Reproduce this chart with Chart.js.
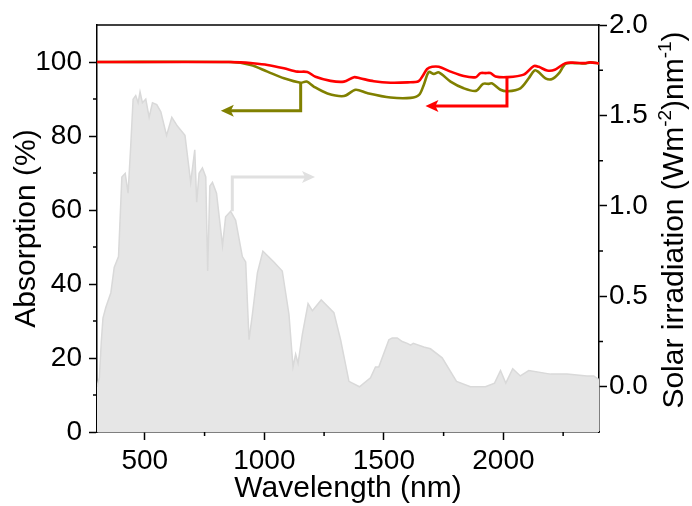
<!DOCTYPE html>
<html><head><meta charset="utf-8">
<script src="https://cdn.jsdelivr.net/npm/chart.js@4.4.1/dist/chart.umd.min.js"></script>
<style>html,body{margin:0;padding:0;background:#fff}#wrap{width:692px;height:506px}</style>
</head><body><div id="wrap"><canvas id="c" width="692" height="506"></canvas></div>
<script>
// ---- data ----
const solarWavelength = [300,310,318,325,337,358,372,390,404,418,430,441,451,462,472,480,490,504,518,532,550,567,591,613,637,668,692,709,717,727,741,755,763,772,783,800,825,838,859,880,908,922,936,950,971,994,1040,1075,1103,1120,1131,1141,1159,1183,1201,1238,1291,1319,1354,1398,1444,1465,1479,1521,1535,1556,1577,1598,1612,1623,1667,1695,1744,1804,1862,1925,1963,1988,2010,2039,2071,2106,2197,2266,2350,2378,2400];
const solarIrradiance = [0.0,0.05,0.25,0.38,0.44,0.52,0.66,0.72,1.16,1.18,1.07,1.33,1.59,1.61,1.57,1.63,1.57,1.59,1.49,1.57,1.56,1.52,1.39,1.49,1.44,1.39,1.13,1.31,1.02,1.18,1.21,1.16,0.64,1.11,1.13,1.07,0.78,0.94,0.97,0.92,0.72,0.69,0.26,0.40,0.63,0.75,0.69,0.64,0.40,0.11,0.18,0.13,0.29,0.46,0.42,0.48,0.41,0.26,0.03,0.00,0.05,0.11,0.11,0.26,0.27,0.27,0.25,0.24,0.23,0.24,0.22,0.21,0.16,0.03,0.00,0.00,0.02,0.09,0.02,0.10,0.06,0.09,0.07,0.07,0.06,0.06,0.04];

const redWavelength = [300,850,900,943,1013,1082,1138,1180,1214,1277,1333,1375,1400,1458,1528,1600,1645,1665,1681,1702,1730,1779,1834,1885,1904,1925,1946,1967,2015,2085,2127,2148,2183,2215,2260,2300,2340,2364,2400];
const redAbsorption = [100,100,99.9,99.7,99.2,98.3,97.4,97.3,96.0,94.9,94.7,95.9,95.6,94.8,94.4,94.5,94.8,96.5,98.1,98.7,98.7,97.4,96.2,95.9,97.0,97.0,97.0,96.1,95.9,96.6,98.9,98.7,97.7,97.9,99.7,99.8,99.7,99.9,99.6];

const oliveWavelength = [300,860,943,1013,1082,1152,1177,1208,1264,1333,1382,1430,1528,1612,1647,1667,1688,1709,1730,1779,1834,1885,1915,1939,1953,1988,2018,2071,2106,2130,2145,2176,2204,2232,2260,2300,2340,2364,2400];
const oliveAbsorption = [100,100,99.2,97.4,95.6,94.4,94.7,93.3,91.5,90.8,92.5,91.6,90.4,90.3,91.1,93.8,97.3,96.8,97.2,94.7,92.9,92.2,94.1,94.1,94.2,92.5,92.1,92.9,95.6,97.7,97.4,95.6,95.4,96.9,99.5,99.7,99.6,99.9,99.6];

const xTicks = [500,1000,1500,2000];
const xMinorTicks = [750,1250,1750,2250];
const leftTicks = [0,20,40,60,80,100];
const leftMinorTicks = [10,30,50,70,90];
const rightTicks = [0,0.5,1.0,1.5,2.0];
const rightMinorTicks = [0.25,0.75,1.25,1.75];

// arrow annotations: [wavelength, value] corners, last point is the tip
const oliveArrow = [[1152,94.4],[1152,86.8],[818,86.8]];
const redArrow = [[2015,95.9],[2015,88.1],[1674,88.1]];
const greyArrow = [[866,0.97],[866,1.16],[1212,1.16]];

const FONT = "'Liberation Sans', Arial, Helvetica, sans-serif";
const toXY = (xs, ys) => xs.map((x, i) => ({x: x, y: ys[i]}));

const decor = {
  id: 'decor',
  afterDatasetsDraw(chart) {
    const ctx = chart.ctx;
    const sx = chart.scales.x, sy = chart.scales.y, sy2 = chart.scales.y2;
    function arrow(pts, yScale, color, lw) {
      const p = pts.map(([a, b]) => [sx.getPixelForValue(a), yScale.getPixelForValue(b)]);
      const n = p.length;
      const tip = p[n - 1], prev = p[n - 2];
      const dx = tip[0] - prev[0], dy = tip[1] - prev[1];
      const len = Math.hypot(dx, dy), ux = dx / len, uy = dy / len;
      const hl = 11, hw = 6;
      const base = [tip[0] - ux * hl, tip[1] - uy * hl];
      ctx.save();
      ctx.strokeStyle = color; ctx.fillStyle = color; ctx.lineWidth = lw;
      ctx.lineJoin = 'miter'; ctx.lineCap = 'butt';
      ctx.beginPath();
      ctx.moveTo(p[0][0], p[0][1]);
      for (let i = 1; i < n - 1; i++) ctx.lineTo(p[i][0], p[i][1]);
      ctx.lineTo(base[0] + ux * 2, base[1] + uy * 2);
      ctx.stroke();
      ctx.beginPath();
      ctx.moveTo(tip[0], tip[1]);
      ctx.lineTo(base[0] - uy * hw - ux * 2, base[1] + ux * hw - uy * 2);
      ctx.lineTo(base[0] + ux * 1, base[1] + uy * 1);
      ctx.lineTo(base[0] + uy * hw - ux * 2, base[1] - ux * hw - uy * 2);
      ctx.closePath();
      ctx.fill();
      ctx.restore();
    }
    arrow(greyArrow, sy2, '#e0e0e0', 3);
    arrow(oliveArrow, sy, '#808000', 3);
    arrow(redArrow, sy, '#ff0000', 3);
  },
  afterDraw(chart) {
    const ctx = chart.ctx;
    const a = chart.chartArea;
    const sx = chart.scales.x, sy = chart.scales.y, sy2 = chart.scales.y2;
    ctx.save();
    ctx.strokeStyle = '#000'; ctx.lineWidth = 1.5;
    ctx.beginPath(); ctx.moveTo(a.left - 0.75, a.top); ctx.lineTo(a.right + 0.75, a.top); ctx.stroke();
    ctx.lineWidth = 1.5;
    ctx.beginPath();
    leftMinorTicks.forEach(v => { const y = sy.getPixelForValue(v); ctx.moveTo(a.left, y); ctx.lineTo(a.left - 4, y); });
    rightMinorTicks.forEach(v => { const y = sy2.getPixelForValue(v); ctx.moveTo(a.right, y); ctx.lineTo(a.right + 4, y); });
    xMinorTicks.forEach(v => { const x = sx.getPixelForValue(v); ctx.moveTo(x, a.bottom); ctx.lineTo(x, a.bottom + 4); });
    ctx.stroke();
    // right axis title with superscripts, reading bottom to top
    const parts = [['Solar irradiation (Wm', false], ['-2', true], [')nm', false], ['-1', true], [')', false]];
    const mainF = '30px ' + FONT, supF = '19px ' + FONT;
    let total = 0;
    parts.forEach(([t, s]) => { ctx.font = s ? supF : mainF; total += ctx.measureText(t).width; });
    ctx.translate(672, 220);
    ctx.rotate(-Math.PI / 2);
    ctx.fillStyle = '#000';
    ctx.textBaseline = 'alphabetic';
    ctx.textAlign = 'left';
    let x = -total / 2;
    parts.forEach(([t, s]) => {
      ctx.font = s ? supF : mainF;
      ctx.fillText(t, x, s ? -1 : 10.5);
      x += ctx.measureText(t).width;
    });
    ctx.restore();
  }
};

const axisCommon = {
  grid: { display: true, drawOnChartArea: false, drawTicks: true, tickLength: 8, tickColor: '#000', tickWidth: 1.5 },
  border: { display: true, color: '#000', width: 1.5 },
};

new Chart(document.getElementById('c'), {
  type: 'line',
  data: {
    datasets: [
      { label: 'red', data: toXY(redWavelength, redAbsorption), yAxisID: 'y', borderColor: '#ff0000', borderWidth: 2.6, pointRadius: 0, fill: false, tension: 0.3, order: 0 },
      { label: 'olive', data: toXY(oliveWavelength, oliveAbsorption), yAxisID: 'y', borderColor: '#808000', borderWidth: 2.6, pointRadius: 0, fill: false, tension: 0.3, order: 1 },
      { label: 'solar', data: toXY(solarWavelength, solarIrradiance), yAxisID: 'y2', borderColor: '#d9d9d9', backgroundColor: '#e6e6e6', borderWidth: 1.5, pointRadius: 0, fill: 'start', tension: 0, order: 2 }
    ]
  },
  options: {
    responsive: false, animation: false, devicePixelRatio: 1,
    layout: { padding: { top: 25, left: 0, right: 0, bottom: 0 } },
    plugins: { legend: { display: false }, tooltip: { enabled: false } },
    scales: {
      x: Object.assign({}, axisCommon, {
        type: 'linear', min: 300, max: 2400,
        afterBuildTicks: s => { s.ticks = xTicks.map(v => ({ value: v })); },
        afterFit: s => { s.height = 74; },
        ticks: { color: '#000', font: { family: FONT, size: 28, lineHeight: 1 }, padding: 7, maxRotation: 0, autoSkip: false, callback: v => String(v) },
        title: { display: true, text: 'Wavelength (nm)', color: '#000', font: { family: FONT, size: 30, lineHeight: 1 }, padding: { top: 0, bottom: 2 } }
      }),
      y: Object.assign({}, axisCommon, {
        type: 'linear', position: 'left', min: 0, max: 110,
        afterBuildTicks: s => { s.ticks = leftTicks.map(v => ({ value: v })); },
        afterFit: s => { s.width = 97; },
        ticks: { color: '#000', font: { family: FONT, size: 28, lineHeight: 1 }, padding: 7, callback: v => String(v) },
        title: { display: true, text: 'Absorption (%)', color: '#000', font: { family: FONT, size: 30, lineHeight: 1 }, padding: { top: 12, bottom: 0 } }
      }),
      y2: Object.assign({}, axisCommon, {
        type: 'linear', position: 'right', min: -0.25, max: 2.0,
        afterBuildTicks: s => { s.ticks = rightTicks.map(v => ({ value: v })); },
        afterFit: s => { s.width = 93; },
        ticks: { color: '#000', font: { family: FONT, size: 28, lineHeight: 1 }, padding: 2, callback: v => Number(v).toFixed(1) },
        title: { display: false }
      })
    }
  },
  plugins: [decor]
});
</script>
</body></html>
